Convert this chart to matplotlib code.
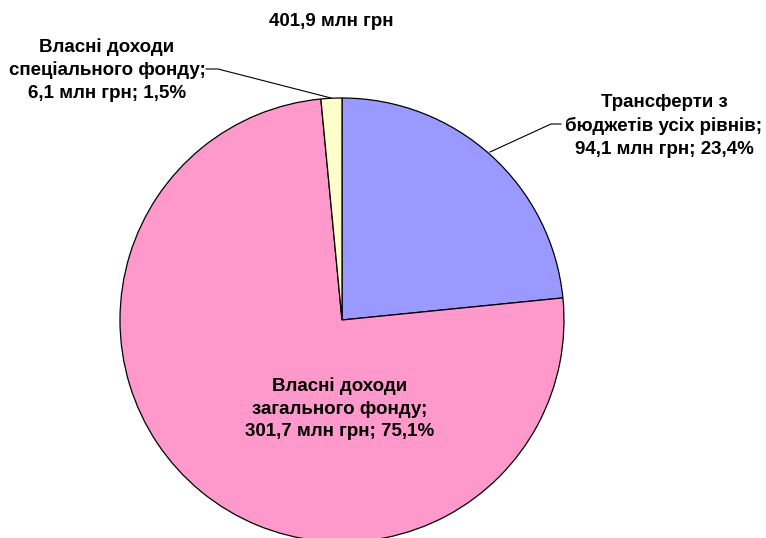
import matplotlib
matplotlib.use("Agg")
import matplotlib.pyplot as plt

# slice data, clockwise from 12 o'clock
labels = [
    "Трансферти з\nбюджетів усіх рівнів;\n94,1 млн грн; 23,4%",
    "Власні доходи\nзагального фонду;\n301,7 млн грн; 75,1%",
    "Власні доходи\nспеціального фонду;\n6,1 млн грн; 1,5%",
]
values = [94.1, 301.7, 6.1]
colors = ["#9999FF", "#FF99CC", "#FFFFCC"]
total_label = "401,9 млн грн"

W, H = 766, 538
plt.rcParams["font.family"] = ["Liberation Sans", "DejaVu Sans"]

fig = plt.figure(figsize=(W / 100, H / 100), dpi=100)
ax = fig.add_axes([0, 0, 1, 1])

cx, cy, r = 342, H - 320, 222
ax.pie(values, colors=colors, startangle=90, counterclock=False,
       center=(cx, cy), radius=r,
       wedgeprops={"edgecolor": "black", "linewidth": 0.9})
ax.set_xlim(0, W)
ax.set_ylim(0, H)
ax.set_aspect("equal")
ax.axis("off")

txt = dict(ha="center", va="center", fontsize=13.5, fontweight="bold",
           linespacing=1.42, color="black")

ax.text(331, H - 22, total_label, **txt)
ax.text(664, H - 126, labels[0], **txt)
ax.text(340, H - 409, labels[1], **txt)
ax.text(107, H - 70, labels[2], **txt)

# leader lines
ax.plot([561, 551, 490], [H - 124, H - 124, H - 152], color="black", lw=0.8)
ax.plot([206, 218, 331], [H - 69, H - 69, H - 98], color="black", lw=0.8)

fig.savefig("out.png", dpi=100)
